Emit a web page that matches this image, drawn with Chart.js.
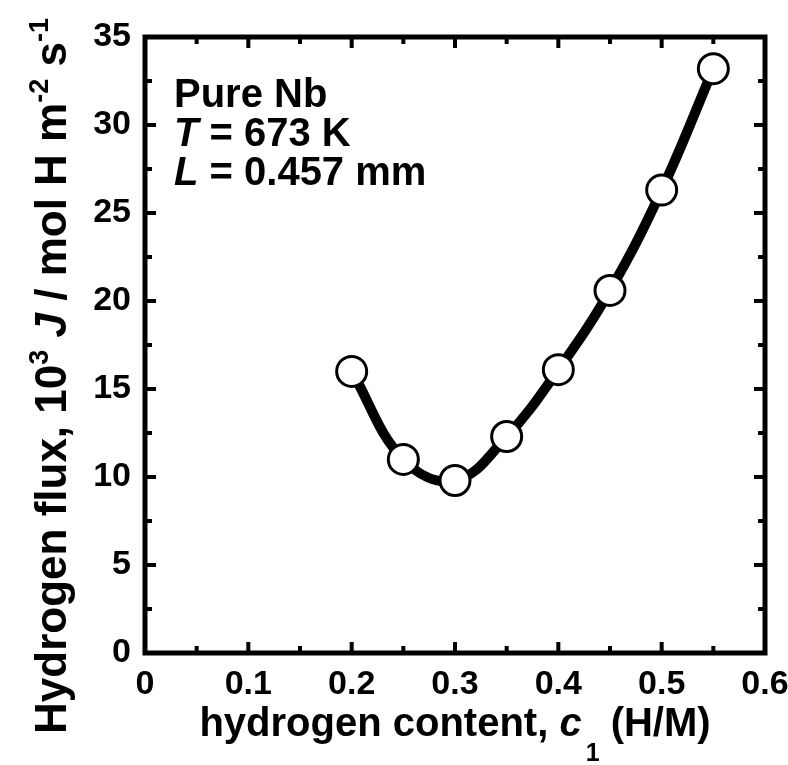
<!DOCTYPE html>
<html><head><meta charset="utf-8">
<script src="https://cdn.jsdelivr.net/npm/chart.js@4/dist/chart.umd.min.js"></script>
<style>html,body{margin:0;padding:0;background:#fff}canvas{display:block}</style>
</head><body>
<canvas id="c" width="788" height="765"></canvas>
<script>
// ---- data ----
const hydrogenContent = [0.2, 0.25, 0.3, 0.35, 0.4, 0.45, 0.5, 0.55];
const hydrogenFlux    = [16.0, 11.0, 9.8, 12.3, 16.1, 20.6, 26.3, 33.2];
const xTickRange = [0, 0.6, 0.1];   // min, max, step
const yTickRange = [0, 35, 5];
const annotationLines = [
  [{t:'Pure Nb'}],
  [{t:'T', i:true}, {t:' = 673 K'}],
  [{t:'L', i:true}, {t:' = 0.457 mm'}]
];
const xTitleParts = [{t:'hydrogen content, '}, {t:'c', i:true}, {t:'1', s:'sub'}, {t:' (H/M)'}];
const yTitleParts = [{t:'Hydrogen flux, 10'}, {t:'3', s:'sup'}, {t:' '}, {t:'J', i:true},
  {t:' / mol H m'}, {t:'-2', s:'sup'}, {t:' s'}, {t:'-1', s:'sup'}];

const FONT = 'Liberation Sans, Arial, Helvetica, sans-serif';
const TARGET = { left: 145, right: 765, top: 37, bottom: 653 };

function segFont(seg, size){
  const sz = seg.s ? Math.round(size*0.62) : size;
  return (seg.i ? 'italic ' : '') + 'bold ' + sz + 'px ' + FONT;
}
function richWidth(ctx, parts, size){
  let w = 0;
  for (const p of parts){ ctx.font = segFont(p, size); w += ctx.measureText(p.t).width + (p.s==='sub'?4:0); }
  return w;
}
function drawRich(ctx, parts, x, y, size){
  ctx.textAlign = 'left'; ctx.textBaseline = 'alphabetic'; ctx.fillStyle = '#000';
  for (const p of parts){
    ctx.font = segFont(p, size);
    let dy = 0, dx = 0;
    if (p.s === 'sup') dy = -size*0.42;
    if (p.s === 'sub') { dy = size*0.62; dx = 4; }
    ctx.fillText(p.t, x + dx, y + dy);
    x += ctx.measureText(p.t).width + dx;
  }
}

const framePlugin = {
  id: 'frame',
  afterDraw(chart){
    const ctx = chart.ctx, a = chart.chartArea;
    const xs = chart.scales.x, ys = chart.scales.y;
    ctx.save();
    ctx.strokeStyle = '#000';
    ctx.lineWidth = 4; ctx.lineCap = 'butt';
    const majorLen = 11, minorLen = 7;
    function mids(vals){ const m=[]; for(let k=0;k<vals.length-1;k++) m.push((vals[k]+vals[k+1])/2); return m; }
    const xv = xs.ticks.map(t=>t.value), yv = ys.ticks.map(t=>t.value);
    const drawX = (v,len)=>{ const p = xs.getPixelForValue(v);
      ctx.beginPath(); ctx.moveTo(p, a.bottom); ctx.lineTo(p, a.bottom-len);
      ctx.moveTo(p, a.top); ctx.lineTo(p, a.top+len); ctx.stroke(); };
    const drawY = (v,len)=>{ const p = ys.getPixelForValue(v);
      ctx.beginPath(); ctx.moveTo(a.left, p); ctx.lineTo(a.left+len, p);
      ctx.moveTo(a.right, p); ctx.lineTo(a.right-len, p); ctx.stroke(); };
    xv.forEach(v=>drawX(v,majorLen)); mids(xv).forEach(v=>drawX(v,minorLen));
    yv.forEach(v=>drawY(v,majorLen)); mids(yv).forEach(v=>drawY(v,minorLen));
    ctx.lineWidth = 5; ctx.lineJoin = 'miter';
    ctx.strokeRect(a.left, a.top, a.right-a.left, a.bottom-a.top);
    // annotation
    const asz = 40;
    annotationLines.forEach((parts, k)=>{
      drawRich(ctx, parts, a.left + 29, a.top + 70 + k*39, asz);
    });
    // x title
    const tsz = 40;
    const xw = richWidth(ctx, xTitleParts, tsz);
    drawRich(ctx, xTitleParts, (a.left + a.right)/2 - xw/2, 736, tsz);
    // y title
    const ysz = 44;
    const yw = richWidth(ctx, yTitleParts, ysz);
    ctx.translate(66, 376);
    ctx.rotate(-Math.PI/2);
    drawRich(ctx, yTitleParts, -yw/2, 0, ysz);
    ctx.restore();
  }
};

const chart = new Chart(document.getElementById('c'), {
  type: 'line',
  data: {
    datasets: [{
      data: hydrogenContent.map((x,k)=>({x, y: hydrogenFlux[k]})),
      borderColor: '#000',
      borderWidth: 10,
      tension: 0.4,
      pointRadius: 15,
      pointHoverRadius: 15,
      pointBackgroundColor: '#fff',
      pointBorderColor: '#000',
      pointBorderWidth: 3,
      clip: false
    }]
  },
  options: {
    responsive: false,
    animation: false,
    devicePixelRatio: 1,
    layout: { padding: { top: 37, right: 23, left: 0, bottom: 0 } },
    plugins: { legend: { display: false }, tooltip: { enabled: false } },
    scales: {
      x: {
        type: 'linear', min: xTickRange[0], max: xTickRange[1],
        grid: { display: false, drawTicks: false }, border: { display: false },
        ticks: { stepSize: xTickRange[2], padding: 11, color: '#000',
                 font: { family: FONT, size: 34, weight: 'bold' }, maxRotation: 0 },
        afterFit(s){ s.height = 112; s.paddingLeft = 0; s.paddingRight = 0; }
      },
      y: {
        type: 'linear', min: yTickRange[0], max: yTickRange[1],
        grid: { display: false, drawTicks: false }, border: { display: false },
        ticks: { stepSize: yTickRange[2], padding: 14, color: '#000',
                 font: { family: FONT, size: 34, weight: 'bold' } },
        afterFit(s){ s.width = 145; s.paddingTop = 0; s.paddingBottom = 0; }
      }
    }
  },
  plugins: [framePlugin]
});
// nudge padding so that the plot frame lands where the reference has it
for (let iter = 0; iter < 4; iter++){
  const a = chart.chartArea, p = chart.config.options.layout.padding;
  const dr = a.right - TARGET.right, dt = TARGET.top - a.top,
        dl = TARGET.left - a.left, db = a.bottom - TARGET.bottom;
  if (Math.abs(dr) + Math.abs(dt) + Math.abs(dl) + Math.abs(db) < 0.5) break;
  chart.config.options.layout.padding = {
    right: Math.max(0, p.right + dr), top: Math.max(0, p.top + dt),
    left: Math.max(0, p.left + dl), bottom: Math.max(0, p.bottom + db)
  };
  chart.update();
}
</script>
</body></html>
